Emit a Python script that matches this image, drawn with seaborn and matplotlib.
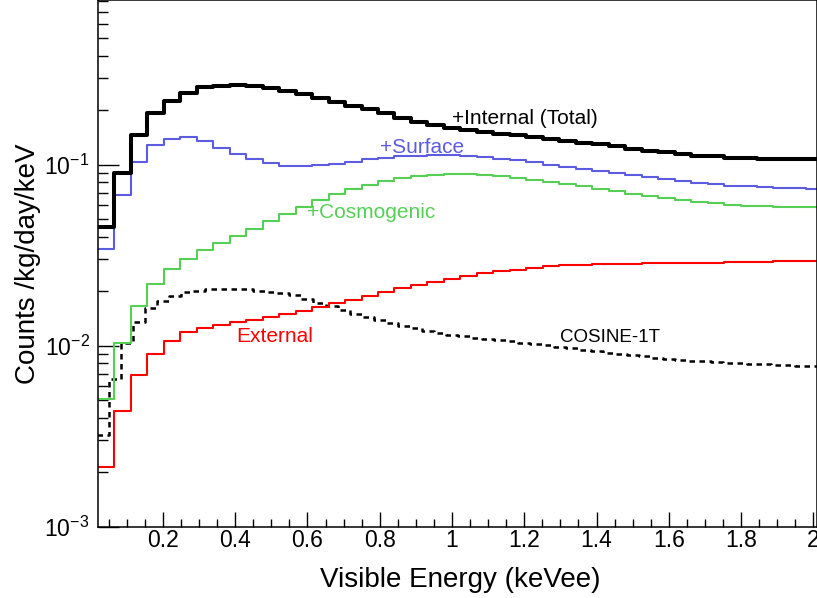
import numpy as np
import pandas as pd
import matplotlib
matplotlib.use("Agg")
import matplotlib.pyplot as plt
import matplotlib.ticker as mticker
import seaborn as sns

# simulated background components, 44 bins from 0.02 keV, width 0.0456 keV
sim_edges = 0.02 + 0.0456 * np.arange(45)
total = [0.0452, 0.0903, 0.145, 0.192, 0.225, 0.249, 0.267, 0.272, 0.275, 0.272,
         0.266, 0.256, 0.245, 0.234, 0.222, 0.211, 0.202, 0.192, 0.181, 0.172,
         0.165, 0.159, 0.156, 0.152, 0.148, 0.145, 0.142, 0.138, 0.135, 0.132,
         0.130, 0.127, 0.122, 0.119, 0.117, 0.114, 0.112, 0.111, 0.109, 0.109,
         0.108, 0.107, 0.107, 0.107]
surface = [0.0343, 0.0676, 0.103, 0.128, 0.139, 0.142, 0.135, 0.123, 0.114, 0.107,
           0.1015, 0.0987, 0.0982, 0.0991, 0.101, 0.104, 0.107, 0.109, 0.111, 0.112,
           0.113, 0.113, 0.112, 0.110, 0.108, 0.106, 0.103, 0.0995, 0.097, 0.0946,
           0.0922, 0.0895, 0.0873, 0.0854, 0.0833, 0.0816, 0.0795, 0.0785, 0.0765, 0.0759,
           0.0749, 0.0746, 0.0740, 0.0737]
cosmogenic = [0.00507, 0.0103, 0.0165, 0.0220, 0.0264, 0.0302, 0.0336, 0.0368, 0.0403, 0.0442,
              0.0485, 0.0531, 0.0583, 0.0634, 0.0685, 0.0733, 0.0775, 0.0808, 0.0843, 0.0861,
              0.0880, 0.0889, 0.0891, 0.0880, 0.0865, 0.0847, 0.0826, 0.0801, 0.0781, 0.0758,
              0.0737, 0.0714, 0.0691, 0.0674, 0.0657, 0.0640, 0.0624, 0.0613, 0.0601, 0.0593,
              0.0588, 0.0586, 0.0583, 0.0580]
external = [0.00215, 0.00437, 0.00691, 0.00899, 0.01066, 0.01184, 0.01247, 0.01302, 0.01345, 0.01392,
            0.01447, 0.01497, 0.01562, 0.01629, 0.01723, 0.01797, 0.01891, 0.0199, 0.02086, 0.02168,
            0.02241, 0.0234, 0.02425, 0.02504, 0.02568, 0.02624, 0.02692, 0.02737, 0.02772, 0.02797,
            0.02818, 0.02833, 0.02833, 0.02844, 0.02844, 0.02855, 0.0287, 0.0287, 0.02881, 0.02892,
            0.02907, 0.02918, 0.02918, 0.02929]

# COSINE-1T measured spectrum, bins of 1/30 keV
cos_edges = 0.05 + np.arange(-1, 60) / 30
cosine_1t = [0.00321, 0.00654, 0.0103, 0.01345, 0.01612, 0.01774, 0.01891, 0.01972, 0.02015, 0.02049,
             0.0206, 0.0206, 0.02049, 0.02015, 0.0199, 0.01965, 0.01903, 0.01808, 0.01729, 0.01653,
             0.01572, 0.01503, 0.01447, 0.01392, 0.01332, 0.0129, 0.0125, 0.01211, 0.01176, 0.01151,
             0.01129, 0.01108, 0.0109, 0.01072, 0.01056, 0.01039, 0.01022, 0.01004, 0.00983, 0.00966,
             0.00947, 0.0093, 0.00915, 0.009, 0.00886, 0.00873, 0.00858, 0.00848, 0.00837, 0.00826,
             0.00818, 0.00811, 0.00803, 0.00797, 0.00792, 0.00787, 0.00782, 0.00777, 0.00772, 0.00768]

x_ticks = [0.2, 0.4, 0.6, 0.8, 1.0, 1.2, 1.4, 1.6, 1.8, 2.0]
x_ticklabels = ["0.2", "0.4", "0.6", "0.8", "1", "1.2", "1.4", "1.6", "1.8", "2"]
y_ticks = [1e-3, 1e-2, 1e-1]
y_ticklabels = [r"$\mathregular{10^{-3}}$", r"$\mathregular{10^{-2}}$", r"$\mathregular{10^{-1}}$"]

sns.set_style("ticks")
plt.rcParams['font.family'] = ['Liberation Sans', 'DejaVu Sans']
plt.rcParams['mathtext.fontset'] = 'custom'
plt.rcParams['mathtext.rm'] = 'Liberation Sans'

fig = plt.figure(figsize=(8.17, 5.98), dpi=100)
ax = fig.add_axes([0.1198, 0.1192, 1.0 - 0.1198, 1.0 - 0.1192])

def draw_hist(edges, values, color, lw, **kw):
    edges = [float(e) for e in edges]
    centers = [0.5 * (a + b) for a, b in zip(edges[:-1], edges[1:])]
    df = pd.DataFrame({"energy": centers, "rate": values})
    sns.histplot(data=df, x="energy", weights="rate", bins=edges, element="step",
                 fill=False, color=color, lw=lw, ax=ax, **kw)

draw_hist(cos_edges, cosine_1t, "black", 1.8, linestyle=(0, (2.2, 1.8)))
draw_hist(sim_edges, external, "#ff0000", 1.5)
draw_hist(sim_edges, cosmogenic, "#55d055", 1.5)
draw_hist(sim_edges, surface, "#5c5ce0", 1.5)
draw_hist(sim_edges, total, "black", 2.9)

ax.set_yscale("log")
ax.set_xlim(0.02, 2.01)
ax.set_ylim(1e-3, 0.811)

ax.set_xticks(x_ticks)
ax.set_xticklabels(x_ticklabels)
ax.xaxis.set_minor_locator(mticker.MultipleLocator(0.05))
ax.set_yticks(y_ticks)
ax.set_yticklabels(y_ticklabels)
ax.yaxis.set_minor_locator(mticker.LogLocator(base=10, subs=np.arange(2, 10)))
ax.yaxis.set_minor_formatter(mticker.NullFormatter())

ax.tick_params(axis="both", which="both", color="black", labelcolor="black")
ax.tick_params(axis="x", which="major", direction="in", length=10.8, width=1, labelsize=16.5, pad=1.5)
ax.tick_params(axis="x", which="minor", direction="in", length=5.8, width=1)
ax.tick_params(axis="y", which="major", direction="in", length=15, width=1, labelsize=16.5, pad=6)
ax.tick_params(axis="y", which="minor", direction="in", length=7.5, width=1)
for s in ax.spines.values():
    s.set_linewidth(1.1)
    s.set_color("black")

ax.set_xlabel("Visible Energy (keVee)", fontsize=20, color="black")
ax.set_ylabel("Counts /kg/day/keV", fontsize=20, color="black")
ax.xaxis.set_label_coords(0.504, -0.076)
ax.yaxis.set_label_coords(-0.079, 0.5)

ax.text(1.0, 0.167, "+Internal (Total)", color="black", fontsize=15, va="baseline")
ax.text(0.80, 0.1162, "+Surface", color="#5c5ce0", fontsize=15, va="baseline")
ax.text(0.60, 0.0509, "+Cosmogenic", color="#55d055", fontsize=15, va="baseline")
ax.text(0.404, 0.01046, "External", color="#ff0000", fontsize=15, va="baseline")
ax.text(1.30, 0.01046, "COSINE-1T", color="black", fontsize=13.5, va="baseline")

fig.savefig("out.png", dpi=100)
